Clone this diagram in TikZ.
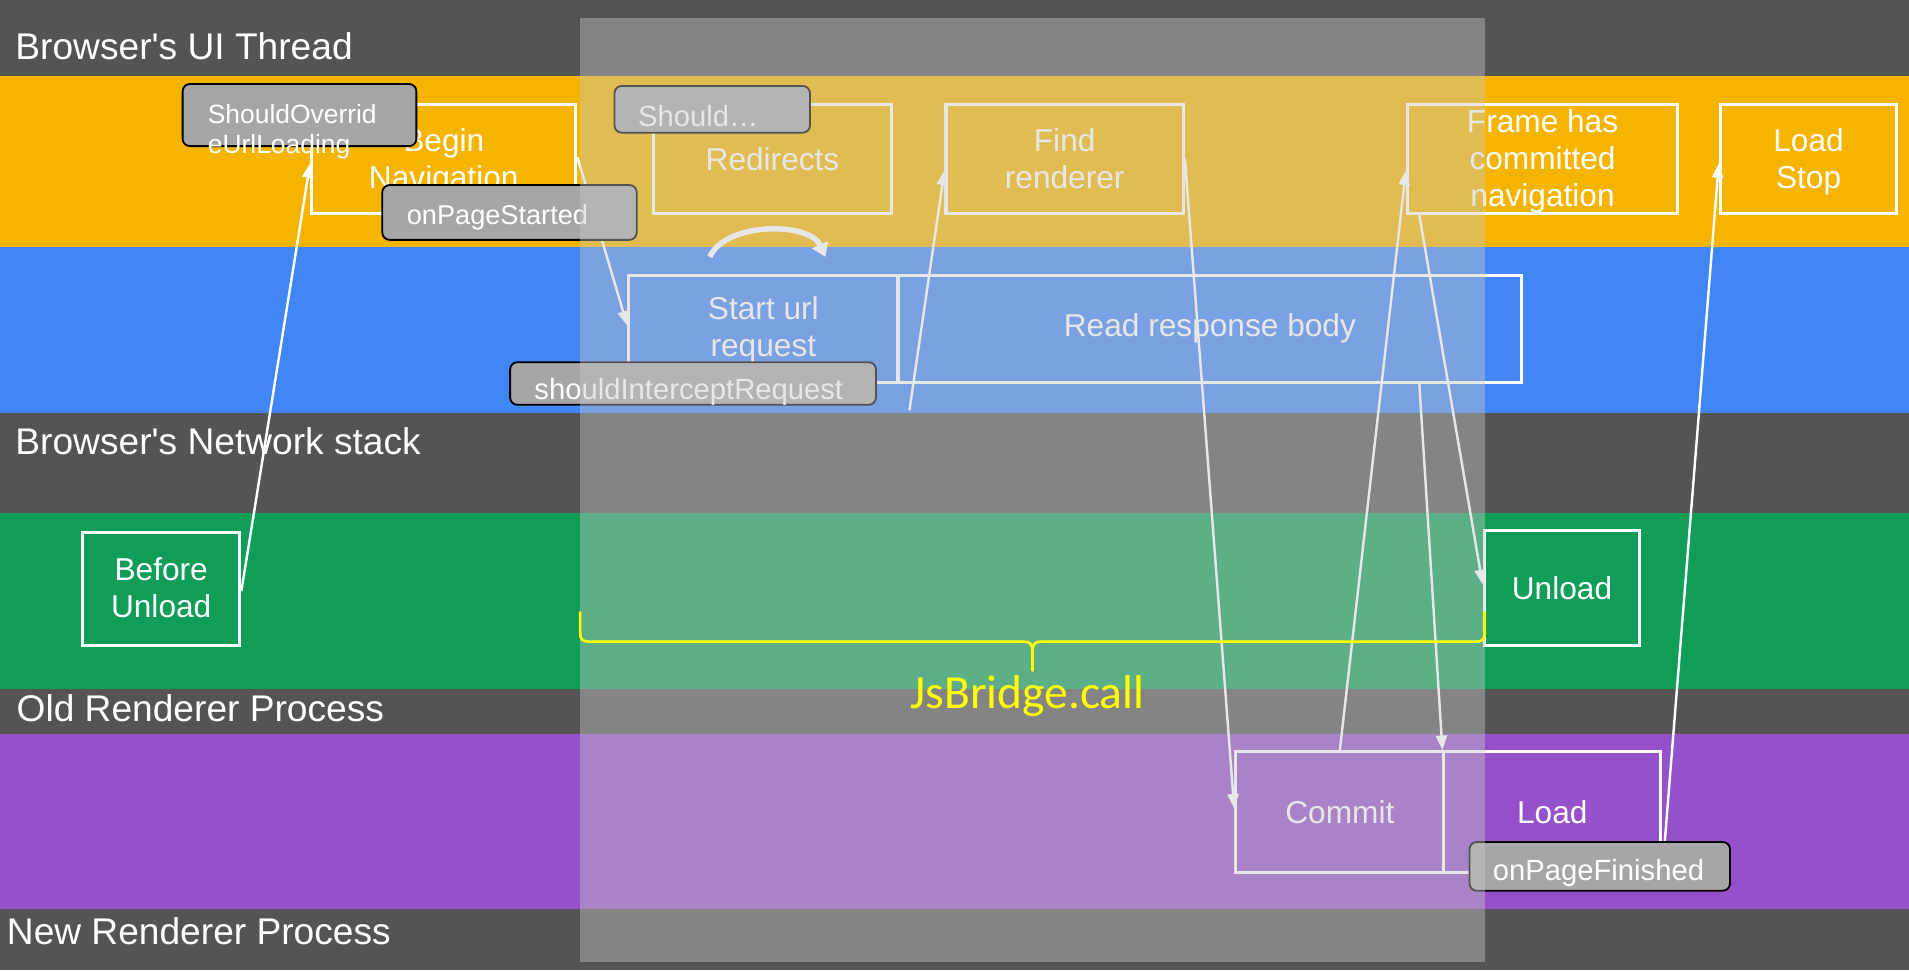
\documentclass[tikz,border=0pt]{standalone}
\usepackage{fontspec}
\setmainfont{Liberation Sans}
\newfontfamily\lsans{Liberation Sans}
\newfontfamily\calfont{Carlito}
\usetikzlibrary{arrows.meta,calc}
\definecolor{dk}{HTML}{545454}
\definecolor{gyel}{HTML}{F4B400}
\definecolor{gblu}{HTML}{4285F4}
\definecolor{ggrn}{HTML}{0F9D58}
\definecolor{gpur}{HTML}{9551C9}
\definecolor{cgray}{HTML}{A6A6A6}
\definecolor{ovl}{HTML}{C8C8C8}
\definecolor{jsy}{HTML}{FFFF00}
\tikzset{
  box/.style={draw=white, line width=2.5pt, inner sep=0pt, text=white, align=center,
              font=\lsans\fontsize{26}{30.5}\selectfont},
  twoline/.style={text height=50pt, text depth=1.8pt},
  threeline/.style={text height=80pt, text depth=1.6pt},
  call/.style={draw=black, line width=1.5pt, fill=cgray, rounded corners=6pt, inner sep=0pt},
  calltext/.style={text=white, inner sep=0pt, anchor=base west, font=\lsans\fontsize{24}{28}\selectfont},
  lane/.style={text=white, inner sep=0pt, anchor=base west, font=\lsans\fontsize{30.5}{36}\selectfont},
  arr/.style={draw=white, line width=2pt, -{Triangle[length=12pt,width=9pt]}},
}
\begin{document}
\begin{tikzpicture}[x=1pt, y=-1pt]
\useasboundingbox (0,0) rectangle (1568,797);
% bands
\fill[dk] (0,0) rectangle (1568,797);
\fill[gyel] (0,62.4) rectangle (1568,202.6);
\fill[gblu] (0,202.6) rectangle (1568,339.4);
\fill[ggrn] (0,421.5) rectangle (1568,566);
\fill[gpur] (0,603) rectangle (1568,746.9);
% lane titles
\node[lane] (l1) at (12.5,48.7) {Browser's UI Thread};
\node[lane] (l2) at (12.5,373.7) {Browser's Network stack};
\node[lane] (l3) at (13.5,593) {Old Renderer Process};
\node[lane] (l4) at (5.5,776) {New Renderer Process};
% boxes
\node[box, twoline, minimum width=129.2pt, minimum height=93pt] (bu) at (132.4,483.5) {Before\\Unload};
\node[box, twoline, minimum width=217pt, minimum height=89pt] (bn) at (364.5,130.5) {Begin\\Navigation};
\node[box, minimum width=195pt, minimum height=89pt] (rd) at (634.5,130.5) {Redirects};
\node[box, twoline, minimum width=195pt, minimum height=89pt] (fr) at (874.5,130.5) {Find\\renderer};
\node[box, threeline, minimum width=222pt, minimum height=89pt] (fc) at (1267,130.5) {Frame has\\committed\\navigation};
\node[box, twoline, minimum width=145pt, minimum height=89pt] (ls) at (1485.5,130.5) {Load\\Stop};
\node[box, text height=50pt, text depth=4pt, minimum width=221pt, minimum height=88pt] (su) at (627,270) {Start url\\request};
\node[box, minimum width=512.4pt, minimum height=88pt] (rb) at (993.8,270) {Read response body};
\node[box, minimum width=128pt, minimum height=94pt] (ul) at (1283,483) {Unload};
\node[box, minimum width=171pt, minimum height=99.6pt] (cm) at (1100.5,667.2) {Commit};
\node[box, minimum width=178pt, minimum height=99.6pt] (ld) at (1275,667.2) {Load};
% redirect loop arrow
\coordinate (rl1) at (583,211);
\coordinate (rl2) at (678,211);
\draw[white, line width=4.5pt, -{Triangle[length=11pt,width=14pt]}] (rl1) .. controls (596,182) and (665,182) .. (rl2);
% connectors
\coordinate (a3) at (747,337);
\draw[arr] ([yshift=-2pt]bu.east) -- ([yshift=-3.5pt]bn.west);
\draw[arr] ([yshift=1.5pt]bn.east) -- ([yshift=2.5pt]su.west);
\draw[arr] (a3) -- ([yshift=-9.5pt]fr.west);
\draw[arr] (fr.east) -- ([yshift=3pt]cm.west);
\draw[arr] (cm.north) -- ([yshift=-9.5pt]fc.west);
\draw[arr] ([xshift=11pt]fc.south west) -- ([yshift=3pt]ul.west);
\draw[arr] ([xshift=172pt]rb.south) -- (ld.north west);
\draw[arr] (ld.south east) -- ([yshift=-3.5pt]ls.west);
% callouts
\node[call, minimum width=192pt, minimum height=51pt] (c1) at (246,94.5) {};
\node[calltext, font=\lsans\fontsize{21.7}{25}\selectfont, align=left] (c1t) at (170.5,126.3) {ShouldOverrid\\eUrlLoading};
\node[call, minimum width=209pt, minimum height=45pt] (c2) at (418.5,174.5) {};
\node[calltext, font=\lsans\fontsize{22.3}{26}\selectfont] (c2t) at (334,184) {onPageStarted};
\node[call, minimum width=160.6pt, minimum height=38.4pt] (c3) at (585,89.8) {};
\node[calltext] (c3t) at (524,103.5) {Should…};
\node[call, minimum width=300.5pt, minimum height=35pt] (c4) at (569.25,315) {};
\node[calltext] (c4t) at (438.8,328.5) {shouldInterceptRequest};
\node[call, minimum width=214pt, minimum height=40pt] (c5) at (1314,711.6) {};
\node[calltext] (c5t) at (1226,723) {onPageFinished};
% translucent overlay
\fill[ovl, fill opacity=0.42] (476.5,15) rectangle (1219.7,790);
% brace and label
\draw[jsy, line width=2.2pt, line cap=round]
  (476.5,503) -- (476.5,520) .. controls (476.5,525) and (478.5,527) .. (483.5,527)
  -- (841,527) .. controls (846,527) and (848,529) .. (848,535) -- (848,551);
\draw[jsy, line width=2.2pt, line cap=round]
  (848,535) .. controls (848,529) and (850,527) .. (855,527)
  -- (1212.5,527) .. controls (1217.5,527) and (1219.5,525) .. (1219.5,520) -- (1219.5,503);
\node[text=jsy, inner sep=0pt, anchor=base, font=\calfont\fontsize{39}{46}\selectfont] (js) at (844,582) {JsBridge.call};
\end{tikzpicture}
\end{document}
